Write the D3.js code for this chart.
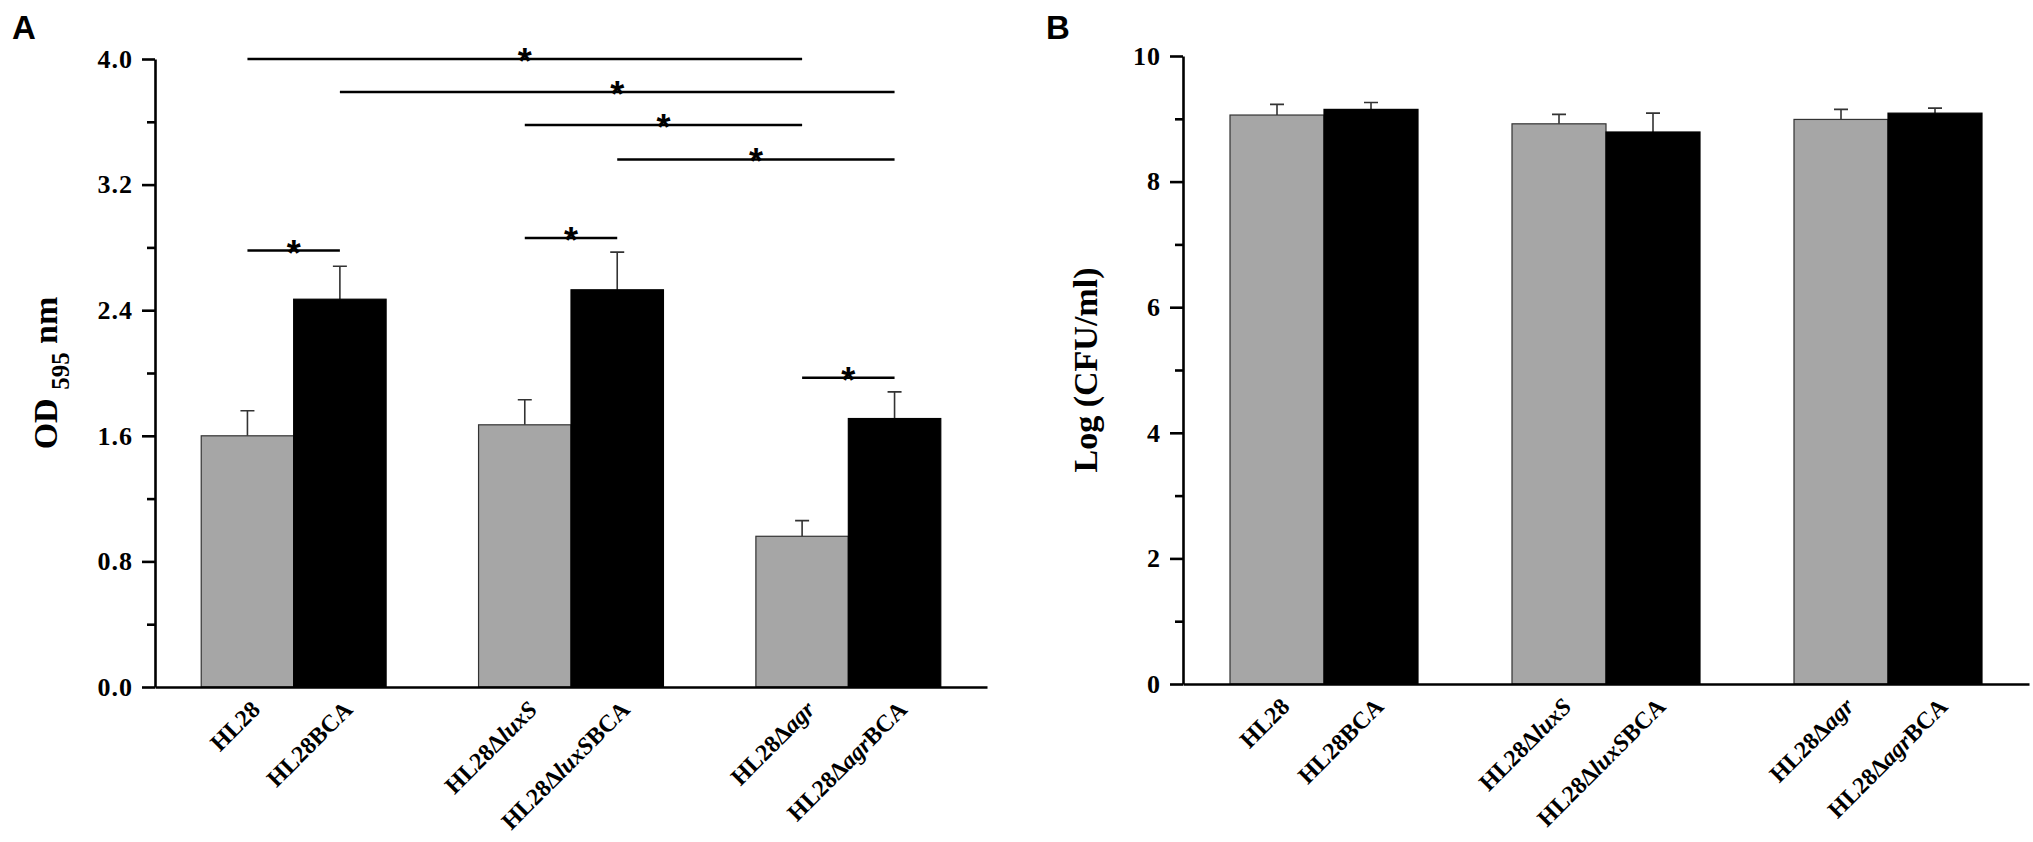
<!DOCTYPE html>
<html lang="en">
<head>
    <meta charset="UTF-8" />
    <title>Biofilm OD and CFU bar charts</title>
    <script src="https://d3js.org/d3.v7.min.js"></script>
    <style>
        body { margin: 0; background: #fff; }
        text { font-family: "Liberation Serif", "Times New Roman", serif; font-weight: bold; }
        text.sans { font-family: "Liberation Sans", Arial, sans-serif; }
    </style>
</head>
<body>
    <script>
        // groups and the two bars inside each group (wild / BCA treated)
        var groupNames = ["HL28", "HL28ΔluxS", "HL28Δagr"];
        // bar labels, the part between | is italic
        var barLabels = ["HL28", "HL28BCA", "HL28Δ|luxS|", "HL28Δ|luxS|BCA", "HL28Δ|agr|", "HL28Δ|agr|BCA"];

        // panel A : OD 595 nm
        var odPlain = [1.60, 1.67, 0.96];
        var odPlainErr = [0.16, 0.16, 0.10];
        var odBCA = [2.47, 2.53, 1.71];
        var odBCAErr = [0.21, 0.24, 0.17];
        var odTicks = [0, 0.8, 1.6, 2.4, 3.2, 4.0];
        var odMinor = [0.4, 1.2, 2.0, 2.8, 3.6];

        // significance bars for panel A: [from bar, to bar, height in OD]
        var sigFrom = [0, 1, 2, 3, 0, 2, 4];
        var sigTo = [4, 5, 4, 5, 1, 3, 5];
        var sigLevel = [4.0, 3.79, 3.58, 3.36, 2.78, 2.86, 1.97];

        // panel B : Log (CFU/ml)
        var cfuPlain = [9.06, 8.92, 8.99];
        var cfuPlainErr = [0.17, 0.15, 0.16];
        var cfuBCA = [9.15, 8.79, 9.09];
        var cfuBCAErr = [0.11, 0.30, 0.08];
        var cfuTicks = [0, 2, 4, 6, 8, 10];
        var cfuMinor = [1, 3, 5, 7, 9];

        var w = 2033;
        var h = 842;
        var grey = "#a6a6a6";

        var svg = d3.select("body")
            .append("svg")
            .attr("width", w)
            .attr("height", h);

        function drawPanel(opt) {
            var xScale = d3.scaleBand()
                .domain(groupNames)
                .range([opt.x0, opt.x1])
                .padding(0);
            var inner = d3.scaleBand()
                .domain([0, 1])
                .range([xScale.bandwidth() / 6, xScale.bandwidth() * 5 / 6]);
            var yScale = d3.scaleLinear()
                .domain(opt.domain)
                .range([opt.y0, opt.y1]);

            // flat list of bars
            var bars = [];
            groupNames.forEach(function (g, i) {
                bars.push({ g: g, k: 0, v: opt.plain[i], e: opt.plainErr[i], label: barLabels[i * 2] });
                bars.push({ g: g, k: 1, v: opt.bca[i], e: opt.bcaErr[i], label: barLabels[i * 2 + 1] });
            });
            function barX(d) { return xScale(d.g) + inner(d.k); }
            function barC(d) { return barX(d) + inner.bandwidth() / 2; }

            var g = svg.append("g");

            // error bars (upper only)
            g.selectAll(".err")
                .data(bars)
                .enter()
                .append("path")
                .attr("d", function (d) {
                    var c = barC(d), top = yScale(d.v + d.e);
                    return "M" + c + "," + yScale(d.v) + "V" + top + "M" + (c - 7) + "," + top + "H" + (c + 7);
                })
                .attr("stroke", "#333")
                .attr("stroke-width", 1.6)
                .attr("fill", "none");

            g.selectAll(".bar")
                .data(bars)
                .enter()
                .append("rect")
                .attr("x", barX)
                .attr("y", function (d) { return yScale(d.v); })
                .attr("width", inner.bandwidth())
                .attr("height", function (d) { return yScale(0) - yScale(d.v); })
                .attr("fill", function (d) { return d.k == 0 ? grey : "#000"; })
                .attr("stroke", function (d) { return d.k == 0 ? "#333" : "#000"; })
                .attr("stroke-width", 1.2);

            // y axis, major and minor ticks
            var yAxis = d3.axisLeft(yScale)
                .tickValues(opt.ticks)
                .tickSize(13)
                .tickSizeOuter(0)
                .tickPadding(9)
                .tickFormat(opt.fmt);
            var ya = g.append("g")
                .attr("transform", "translate(" + opt.x0 + ",0)")
                .call(yAxis);
            ya.select(".domain").attr("stroke-width", 2.6);
            ya.selectAll(".tick line").attr("stroke-width", 2.6);
            ya.selectAll("text")
                .style("font-size", "26px")
                .style("letter-spacing", "1px")
                .attr("fill", "#000");

            var yMinor = d3.axisLeft(yScale)
                .tickValues(opt.minor)
                .tickSize(8)
                .tickSizeOuter(0)
                .tickFormat("");
            var ym = g.append("g")
                .attr("transform", "translate(" + opt.x0 + ",0)")
                .call(yMinor);
            ym.select(".domain").remove();
            ym.selectAll(".tick line").attr("stroke-width", 2.6);

            // x axis line only
            var xAxis = d3.axisBottom(xScale).tickSize(0).tickSizeOuter(0).tickFormat("");
            var xa = g.append("g")
                .attr("transform", "translate(0," + opt.y0 + ")")
                .call(xAxis);
            xa.select(".domain").attr("stroke-width", 2.6);

            // rotated bar labels
            g.selectAll(".xlab")
                .data(bars)
                .enter()
                .append("text")
                .attr("text-anchor", "end")
                .attr("transform", function (d) {
                    return "translate(" + (barC(d) + 14) + "," + (opt.y0 + 24) + ") rotate(-45)";
                })
                .style("font-size", "24px")
                .each(function (d) {
                    var t = d3.select(this);
                    d.label.split("|").forEach(function (part, i) {
                        if (part === "") return;
                        t.append("tspan")
                            .attr("font-style", i % 2 ? "italic" : "normal")
                            .text(part);
                    });
                });

            // y title
            var title = g.append("text")
                .attr("text-anchor", "middle")
                .attr("transform", "translate(" + opt.titleX + "," + (opt.y0 + opt.y1) / 2 + ") rotate(-90)")
                .style("font-size", "34px");
            opt.title.forEach(function (p) {
                var ts = title.append("tspan").text(p.t);
                if (p.sub) ts.style("font-size", "25px").attr("dy", 12);
                if (p.back) ts.attr("dy", -12);
            });

            // panel letter
            svg.append("text")
                .attr("class", "sans")
                .attr("x", opt.letterX)
                .attr("y", 39)
                .style("font-size", "33px")
                .text(opt.letter);

            return { bars: bars, barC: barC, y: yScale, g: g };
        }

        var pa = drawPanel({
            x0: 155, x1: 987, y0: 687, y1: 59,
            domain: [0, 4],
            plain: odPlain, plainErr: odPlainErr, bca: odBCA, bcaErr: odBCAErr,
            ticks: odTicks, minor: odMinor,
            fmt: d3.format(".1f"),
            titleX: 57,
            title: [{ t: "OD " }, { t: "595", sub: true }, { t: " nm", back: true }],
            letter: "A", letterX: 12
        });

        drawPanel({
            x0: 1183, x1: 2029, y0: 684, y1: 56,
            domain: [0, 10],
            plain: cfuPlain, plainErr: cfuPlainErr, bca: cfuBCA, bcaErr: cfuBCAErr,
            ticks: cfuTicks, minor: cfuMinor,
            fmt: d3.format("d"),
            titleX: 1097,
            title: [{ t: "Log (CFU/ml)" }],
            letter: "B", letterX: 1046
        });

        // significance lines with stars on panel A
        var sig = sigFrom.map(function (f, i) { return { a: f, b: sigTo[i], v: sigLevel[i] }; });
        pa.g.selectAll(".sig")
            .data(sig)
            .enter()
            .append("line")
            .attr("x1", function (d) { return pa.barC(pa.bars[d.a]); })
            .attr("x2", function (d) { return pa.barC(pa.bars[d.b]); })
            .attr("y1", function (d) { return pa.y(d.v); })
            .attr("y2", function (d) { return pa.y(d.v); })
            .attr("stroke", "#000")
            .attr("stroke-width", 2.6);

        pa.g.selectAll(".star")
            .data(sig)
            .enter()
            .append("text")
            .attr("class", "sans")
            .attr("x", function (d) { return (pa.barC(pa.bars[d.a]) + pa.barC(pa.bars[d.b])) / 2; })
            .attr("y", function (d) { return pa.y(d.v) + 15; })
            .attr("text-anchor", "middle")
            .style("font-size", "36px")
            .text("*");
    </script>
</body>
</html>
